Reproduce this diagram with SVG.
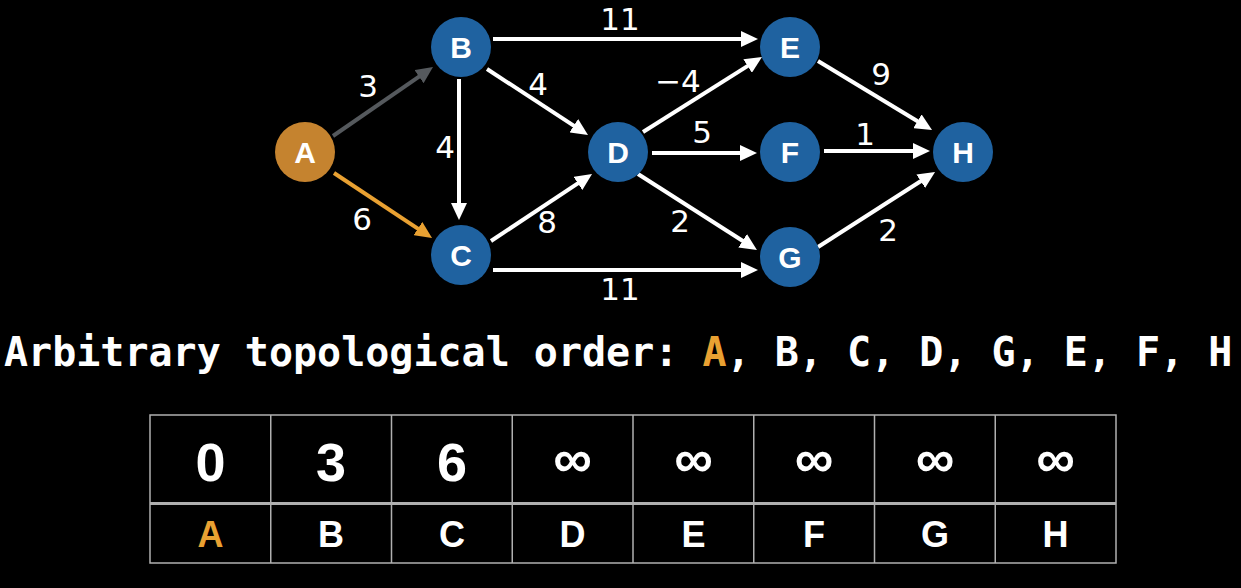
<svg xmlns="http://www.w3.org/2000/svg" width="1241" height="588" viewBox="0 0 1241 588">
<style>
.edge{stroke:#ffffff;stroke-width:4;fill:none}
.node circle{fill:#1f62a0}
.nl{font-family:"Liberation Sans",Arial,sans-serif;font-weight:bold;font-size:30px;fill:#fff;text-anchor:middle}
.el{font-family:"DejaVu Sans",sans-serif;font-size:31px;fill:#fff;text-anchor:middle}
.title{font-family:"DejaVu Sans Mono",monospace;font-weight:bold;font-size:40px;fill:#fff}
.grid{stroke:#b0b0b0;stroke-width:1.5;fill:none}
.val{font-family:"Liberation Sans",Arial,sans-serif;font-weight:bold;font-size:54px;fill:#fff;text-anchor:middle}
.lab{font-family:"Liberation Sans",Arial,sans-serif;font-weight:bold;font-size:36px;fill:#fff;text-anchor:middle}
</style>
<defs>
<marker id="aw" markerUnits="userSpaceOnUse" markerWidth="17" markerHeight="16" refX="4" refY="8" orient="auto"><path d="M0,0 L17,8 L0,16 z" fill="#ffffff"/></marker>
<marker id="ag" markerUnits="userSpaceOnUse" markerWidth="17" markerHeight="16" refX="4" refY="8" orient="auto"><path d="M0,0 L17,8 L0,16 z" fill="#55595d"/></marker>
<marker id="ao" markerUnits="userSpaceOnUse" markerWidth="17" markerHeight="16" refX="4" refY="8" orient="auto"><path d="M0,0 L17,8 L0,16 z" fill="#e9a132"/></marker>
</defs>
<rect width="1241" height="588" fill="#000"/>
<g id="connectors">
<line class="edge" x1="333" y1="136" x2="422.3" y2="74.4" style="stroke:#55595d" marker-end="url(#ag)"/>
<line class="edge" x1="334" y1="173" x2="421.2" y2="230.8" style="stroke:#e9a132" marker-end="url(#ao)"/>
<line class="edge" x1="459" y1="79" x2="459" y2="207" marker-end="url(#aw)"/>
<line class="edge" x1="487" y1="69" x2="577.1" y2="127.9" marker-end="url(#aw)"/>
<line class="edge" x1="491" y1="241" x2="581.2" y2="181.2" marker-end="url(#aw)"/>
<line class="edge" x1="493" y1="39" x2="745" y2="39" marker-end="url(#aw)"/>
<line class="edge" x1="493" y1="270" x2="745" y2="270" marker-end="url(#aw)"/>
<line class="edge" x1="643" y1="132" x2="751" y2="63.9" marker-end="url(#aw)"/>
<line class="edge" x1="652" y1="153" x2="744" y2="153" marker-end="url(#aw)"/>
<line class="edge" x1="638" y1="174" x2="746" y2="243" marker-end="url(#aw)"/>
<line class="edge" x1="818" y1="61" x2="920.9" y2="123.3" marker-end="url(#aw)"/>
<line class="edge" x1="824" y1="151" x2="917" y2="151" marker-end="url(#aw)"/>
<line class="edge" x1="818" y1="247" x2="924.1" y2="179" marker-end="url(#aw)"/>
<text class="el" x="368" y="97">3</text>
<text class="el" x="362" y="230">6</text>
<text class="el" x="445" y="158">4</text>
<text class="el" x="538" y="95">4</text>
<text class="el" x="547" y="233">8</text>
<text class="el" x="620" y="30">11</text>
<text class="el" x="620" y="300">11</text>
<text class="el" x="678" y="92">−4</text>
<text class="el" x="702" y="143">5</text>
<text class="el" x="680" y="232">2</text>
<text class="el" x="881" y="85">9</text>
<text class="el" x="865" y="145">1</text>
<text class="el" x="888" y="241">2</text>
</g>
<g id="node-A" class="node"><circle cx="305" cy="152" r="30" style="fill:#c5832f"/><text class="nl" x="305" y="163">A</text></g>
<g id="node-B" class="node"><circle cx="461" cy="47" r="30"/><text class="nl" x="461" y="58">B</text></g>
<g id="node-C" class="node"><circle cx="461" cy="255" r="30"/><text class="nl" x="461" y="266">C</text></g>
<g id="node-D" class="node"><circle cx="618" cy="152" r="30"/><text class="nl" x="618" y="163">D</text></g>
<g id="node-E" class="node"><circle cx="790" cy="47" r="30"/><text class="nl" x="790" y="58">E</text></g>
<g id="node-F" class="node"><circle cx="790" cy="152" r="30"/><text class="nl" x="790" y="163">F</text></g>
<g id="node-G" class="node"><circle cx="790" cy="257" r="30"/><text class="nl" x="790" y="268">G</text></g>
<g id="node-H" class="node"><circle cx="963" cy="152" r="30"/><text class="nl" x="963" y="163">H</text></g>
<text class="title" x="4" y="366" xml:space="preserve">Arbitrary topological order: <tspan fill="#e9a132">A</tspan>, B, C, D, G, E, F, H</text>
<g id="table">
<rect class="grid" x="150" y="415" width="966" height="148"/>
<line class="grid" x1="150" y1="503.5" x2="1116" y2="503.5" style="stroke-width:3"/>
<line class="grid" x1="270.75" y1="415" x2="270.75" y2="563"/>
<line class="grid" x1="391.5" y1="415" x2="391.5" y2="563"/>
<line class="grid" x1="512.25" y1="415" x2="512.25" y2="563"/>
<line class="grid" x1="633" y1="415" x2="633" y2="563"/>
<line class="grid" x1="753.75" y1="415" x2="753.75" y2="563"/>
<line class="grid" x1="874.5" y1="415" x2="874.5" y2="563"/>
<line class="grid" x1="995.25" y1="415" x2="995.25" y2="563"/>
<text class="val" x="210.4" y="481">0</text>
<text class="val" x="331.1" y="481">3</text>
<text class="val" x="451.9" y="481">6</text>
<text class="val" x="572.6" y="477">∞</text>
<text class="val" x="693.4" y="477">∞</text>
<text class="val" x="814.1" y="477">∞</text>
<text class="val" x="934.9" y="477">∞</text>
<text class="val" x="1055.6" y="477">∞</text>
<text class="lab" x="210.4" y="547" fill="#e9a132" style="fill:#e9a132">A</text>
<text class="lab" x="331.1" y="547">B</text>
<text class="lab" x="451.9" y="547">C</text>
<text class="lab" x="572.6" y="547">D</text>
<text class="lab" x="693.4" y="547">E</text>
<text class="lab" x="814.1" y="547">F</text>
<text class="lab" x="934.9" y="547">G</text>
<text class="lab" x="1055.6" y="547">H</text>
</g>
</svg>
